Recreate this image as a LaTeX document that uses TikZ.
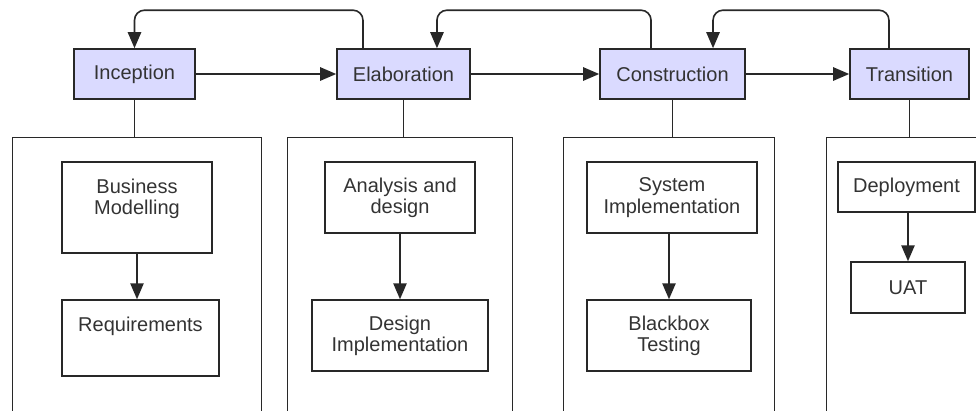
\documentclass[tikz,border=0pt]{standalone}
\usepackage{fontspec}
\setmainfont{Liberation Sans}
\usetikzlibrary{arrows.meta}
\definecolor{phasefill}{RGB}{218,218,255}
\definecolor{linegray}{RGB}{40,40,40}
\definecolor{textgray}{RGB}{51,51,51}
\tikzset{
  every node/.style={font=\fontsize{15}{16}\selectfont, text=textgray},
  phasebox/.style={draw=linegray, line width=1.2pt, fill=phasefill, minimum height=37.5pt, inner sep=0pt},
  stagebox/.style={draw=linegray, line width=1.1pt, inner sep=0pt, anchor=north west},
  taskbox/.style={draw=linegray, line width=1.1pt, align=center, inner sep=0pt},
  toptext/.style={anchor=north, align=center, inner sep=0pt, yshift=-12.75pt},
  flow/.style={draw=linegray, line width=1.2pt, -{Triangle[length=12pt,width=10pt]}},
  feedback/.style={flow, rounded corners=7.5pt},
  link/.style={draw=linegray, line width=1.2pt}
}
\begin{document}
\begin{tikzpicture}[x=0.75pt, y=-0.75pt]
  \clip (0,0) rectangle (976,411);
  % phases
  \node[phasebox, minimum width=90.75pt] (inc) at (134.5,74) {Inception};
  \node[phasebox, minimum width=99.75pt] (ela) at (403.5,74) {Elaboration};
  \node[phasebox, minimum width=108.75pt] (con) at (672.5,74) {Construction};
  \node[phasebox, minimum width=89.25pt] (tra) at (909.5,74) {Transition};

  % stages
  \node[stagebox, minimum width=186.75pt, minimum height=240pt] (stg1) at (12,137) {};
  \node[stagebox, minimum width=168.75pt, minimum height=240pt] (stg2) at (287,137) {};
  \node[stagebox, minimum width=158.25pt, minimum height=240pt] (stg3) at (563,137) {};
  \node[stagebox, minimum width=150pt, minimum height=240pt] (stg4) at (826,137) {};

  % tasks
  \node[taskbox, minimum width=112.5pt, minimum height=68.25pt,
        label={[toptext]north:Business\\Modelling}] (bm) at (137,207.5) {};
  \node[taskbox, minimum width=117.75pt, minimum height=57pt,
        label={[toptext]north:Requirements}] (req) at (140.5,338) {};
  \node[taskbox, minimum width=112.5pt, minimum height=53.25pt] (ad) at (400,197.5) {Analysis and\\design};
  \node[taskbox, minimum width=132pt, minimum height=53.25pt] (di) at (400,335.5) {Design\\Implementation};
  \node[taskbox, minimum width=127.5pt, minimum height=53.25pt] (si) at (672,197.5) {System\\Implementation};
  \node[taskbox, minimum width=123pt, minimum height=53.25pt] (bt) at (669,335.5) {Blackbox\\Testing};
  \node[taskbox, minimum width=102.75pt, minimum height=37.5pt] (dep) at (906.5,187) {Deployment};
  \node[taskbox, minimum width=85.5pt, minimum height=38.25pt] (uat) at (908,287.5) {UAT};

  % forward flow
  \draw[flow] (inc) -- (ela);
  \draw[flow] (ela) -- (con);
  \draw[flow] (con) -- (tra);

  % iterations back
  \draw[feedback] ([xshift=-30.4pt]ela.north) -- ++(0,-38) -| (inc.north);
  \draw[feedback] ([xshift=-16.1pt]con.north) -- ++(0,-38) -| ([xshift=25.1pt]ela.north);
  \draw[feedback] ([xshift=-15.4pt]tra.north) -- ++(0,-38) -| ([xshift=30.4pt]con.north);

  % phase to stage
  \draw[link] (inc.south) -- (inc.south |- stg1.north);
  \draw[link] (ela.south) -- (ela.south |- stg2.north);
  \draw[link] (con.south) -- (con.south |- stg3.north);
  \draw[link] (tra.south) -- (tra.south |- stg4.north);

  % inside stages
  \draw[flow] (bm.south) -- (bm.south |- req.north);
  \draw[flow] (ad.south) -- (ad.south |- di.north);
  \draw[flow] (bt.north |- si.south) -- (bt.north);
  \draw[flow] (uat.north |- dep.south) -- (uat.north);
\end{tikzpicture}
\end{document}
